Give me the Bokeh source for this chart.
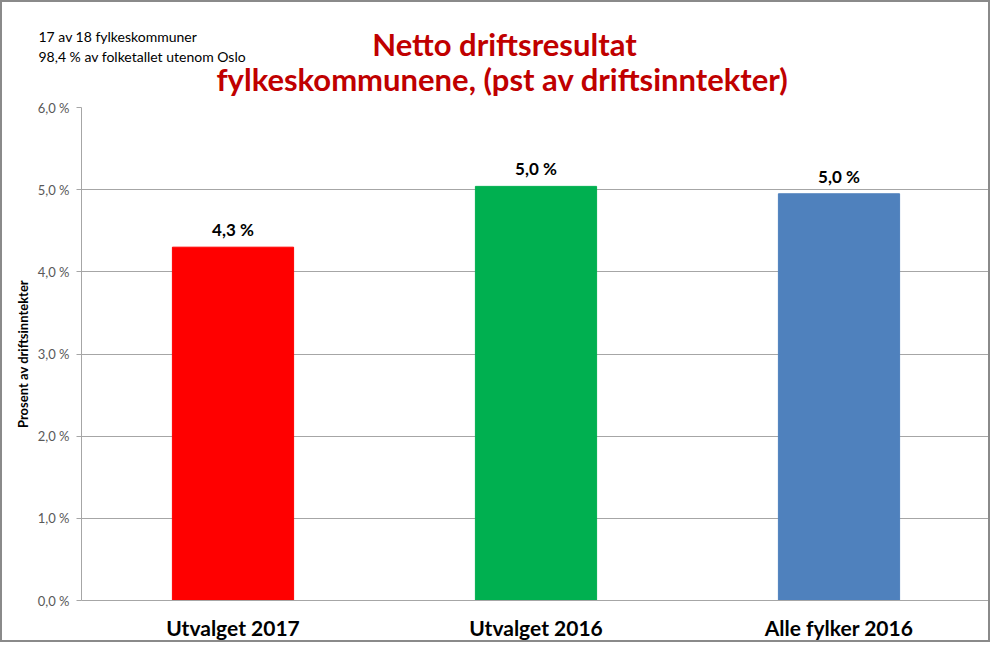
from bokeh.plotting import figure
from bokeh.models import FactorRange, Range1d, Label, LabelSet, ColumnDataSource, FixedTicker
from bokeh.core.properties import value
from bokeh.layouts import column
from bokeh.embed import file_html
from bokeh.resources import INLINE

categories = ["Utvalget 2017", "Utvalget 2016", "Alle fylker 2016"]
values = [4.30, 5.04, 4.95]
value_labels = ["4,3 %", "5,0 %", "5,0 %"]
colors = ["#FF0000", "#00B050", "#4F81BD"]
y_ticks = [0, 1, 2, 3, 4, 5, 6]
y_tick_labels = ["0,0 %", "1,0 %", "2,0 %", "3,0 %", "4,0 %", "5,0 %", "6,0 %"]
title_lines = ["Netto driftsresultat", "fylkeskommunene, (pst av driftsinntekter)"]
notes = ["17 av 18 fylkeskommuner", "98,4 % av folketallet utenom Oslo"]
y_label = "Prosent av driftsinntekter"

FONT = "Lato"
W, H = 990, 642
H_HEAD = 97
H_MAIN = H - H_HEAD
LEFT, RIGHT, TOP, BOTTOM = 81, 0, 10, 33

# ---- header (titles and notes): frame covers the whole header, pixel-like coords, y down
head = figure(width=W, height=H_HEAD, x_range=Range1d(0, W), y_range=Range1d(H_HEAD, 0),
              output_backend="svg", toolbar_location=None,
              x_axis_location=None, y_axis_location=None,
              min_border_left=0, min_border_right=0, min_border_top=0, min_border_bottom=0)
head.frame_align = False
head.outline_line_color = None
head.xgrid.grid_line_color = None
head.ygrid.grid_line_color = None
head.border_fill_color = "white"

for txt, x, y in [(title_lines[0], 504, 43), (title_lines[1], 502, 78)]:
    head.add_layout(Label(x=x, y=y, text=txt, text_align="center", text_baseline="alphabetic",
                          text_font=FONT, text_font_style="bold", text_font_size="31px",
                          text_color="#C00000"))
for txt, y in [(notes[0], 36), (notes[1], 56)]:
    head.add_layout(Label(x=38, y=y, text=txt, text_align="left", text_baseline="alphabetic",
                          text_font=FONT, text_font_size="14px", text_color="black"))

# ---- main chart
src = ColumnDataSource(dict(cat=categories, val=values, lab=value_labels, col=colors))

p = figure(width=W, height=H_MAIN, x_range=FactorRange(*categories, range_padding=0),
           y_range=Range1d(0, 6), output_backend="svg", toolbar_location=None,
           min_border_left=LEFT, min_border_right=RIGHT, min_border_top=TOP,
           min_border_bottom=BOTTOM)
p.frame_align = False
p.outline_line_color = None
p.background_fill_color = "white"
p.border_fill_color = "white"

p.vbar(x="cat", top="val", width=0.4, color="col", source=src)

p.add_layout(LabelSet(x="cat", y="val", text="lab", source=src, text_align="center",
                      text_baseline="alphabetic", y_offset=11, text_font=value(FONT),
                      text_font_style="bold", text_font_size="17px", text_color="black"))

p.xgrid.grid_line_color = None
p.ygrid.grid_line_color = "#A6A6A6"
p.ygrid.grid_line_width = 1

p.yaxis.ticker = FixedTicker(ticks=y_ticks)
p.yaxis.major_label_overrides = {t: l for t, l in zip(y_ticks, y_tick_labels)}
p.yaxis.axis_line_color = "#A6A6A6"
p.yaxis.major_tick_line_color = "#A6A6A6"
p.yaxis.major_tick_out = 5
p.yaxis.major_tick_in = 0
p.yaxis.minor_tick_line_color = None
p.yaxis.major_label_text_font = FONT
p.yaxis.major_label_text_font_size = "13px"
p.yaxis.major_label_text_color = "#595959"
p.yaxis.major_label_standoff = 7
p.yaxis.axis_label = y_label
p.yaxis.axis_label_text_font = FONT
p.yaxis.axis_label_text_font_size = "13px"
p.yaxis.axis_label_text_font_style = "bold"
p.yaxis.axis_label_text_color = "black"
p.yaxis.axis_label_standoff = 4

p.xaxis.axis_line_color = "#A6A6A6"
p.xaxis.major_tick_line_color = None
p.xaxis.minor_tick_line_color = None
p.xaxis.major_label_text_font = FONT
p.xaxis.major_label_text_font_size = "21px"
p.xaxis.major_label_text_font_style = "bold"
p.xaxis.major_label_text_color = "black"
p.xaxis.major_label_standoff = 8

border_css = """
:host { position: relative; }
:host::after {
  content: "";
  position: absolute;
  left: 0; top: 0; right: 0; bottom: 0;
  border: 2px solid #8a8a8a;
  pointer-events: none;
  z-index: 100;
}
"""
layout = column(head, p, spacing=0, width=W, height=H, sizing_mode="fixed",
                styles={"width": f"{W}px", "height": f"{H}px"},
                stylesheets=[border_css])

open("out.html", "w").write(file_html(layout, INLINE))
